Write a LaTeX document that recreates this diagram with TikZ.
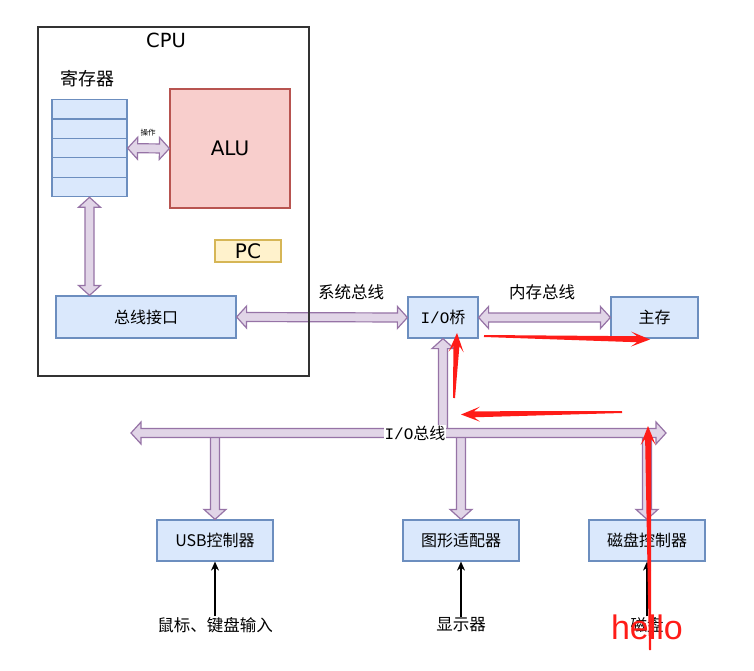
\documentclass[tikz,border=0pt]{standalone}
\usepackage{fontspec}
\setmainfont{DejaVu Sans}
\newfontfamily\cjk{Noto Sans CJK SC}
\newfontfamily\song{Liberation Mono}
\newfontfamily\hand{Liberation Sans}
\usetikzlibrary{calc,arrows.meta}
\definecolor{boxfill}{HTML}{DAE8FC}
\definecolor{boxline}{HTML}{6C8EBF}
\definecolor{alufill}{HTML}{F8CECC}
\definecolor{aluline}{HTML}{B85450}
\definecolor{pcfill}{HTML}{FFF2CC}
\definecolor{pcline}{HTML}{D6B656}
\definecolor{busfill}{HTML}{E1D5E7}
\definecolor{busline}{HTML}{9673A6}
\definecolor{pen}{RGB}{255,28,24}
\tikzset{
  box/.style={draw=boxline, fill=boxfill, line width=1.2pt, inner sep=0pt,
    font=\cjk\fontsize{16}{18}\selectfont},
  flex/.style={draw=busline, fill=busfill, line width=1.2pt, line join=miter},
  tag/.style={font=\cjk\fontsize{16.5}{18}\selectfont, inner sep=1pt},
  redpen/.style={fill=pen},
}
% double headed bus arrow between two points
\def\flexboth(#1)(#2){%
  \coordinate (fa) at ($(#1)!10pt!(#2)$);
  \coordinate (fb) at ($(#2)!10pt!(#1)$);
  \filldraw[flex] (#1) -- ($(fa)!11pt!90:(#2)$) -- ($(fa)!4.5pt!90:(#2)$)
    -- ($(fb)!4.5pt!-90:(#1)$) -- ($(fb)!11pt!-90:(#1)$) -- (#2)
    -- ($(fb)!11pt!90:(#1)$) -- ($(fb)!4.5pt!90:(#1)$)
    -- ($(fa)!4.5pt!-90:(#2)$) -- ($(fa)!11pt!-90:(#2)$) -- cycle;}
% single headed bus arrow
\def\flexone(#1)(#2){%
  \coordinate (fb) at ($(#2)!10pt!(#1)$);
  \filldraw[flex] ($(#1)!4.5pt!90:(#2)$) -- ($(fb)!4.5pt!-90:(#1)$)
    -- ($(fb)!11pt!-90:(#1)$) -- (#2) -- ($(fb)!11pt!90:(#1)$)
    -- ($(fb)!4.5pt!90:(#1)$) -- ($(#1)!4.5pt!-90:(#2)$) -- cycle;}
% hand drawn red arrow
\def\redarrow(#1)(#2){%
  \coordinate (rj) at ($(#2)!13pt!(#1)$);
  \coordinate (rb) at ($(#2)!19pt!(#1)$);
  \fill[redpen] ($(#1)!1pt!90:(#2)$) -- ($(rj)!3pt!90:(#2)$) -- ($(rb)!7.5pt!90:(#2)$)
    -- (#2) -- ($(rb)!7.5pt!-90:(#2)$) -- ($(rj)!3pt!-90:(#2)$)
    -- ($(#1)!1pt!-90:(#2)$) -- cycle;}

\begin{document}
\begin{tikzpicture}[x=1pt,y=-1pt]
	%%%%% START %%%%%
	\useasboundingbox (0,0) rectangle (754,671);

	\node[font=\fontsize{19.5}{21}\selectfont] (cpulabel) at (166,40) {CPU};
	\node[font=\cjk\fontsize{18}{20}\selectfont] (reglabel) at (87,79) {寄存器};

	\foreach \i in {1,...,5}
		\node[box, minimum width=75pt, minimum height=19.4pt] (r\i) at (89.5,{90+\i*19.4}) {};

	\node[draw=aluline, fill=alufill, line width=1.2pt, minimum width=120pt, minimum height=119pt,
		font=\fontsize{20}{22}\selectfont] (alu) at (230,148.5) {ALU};
	\node[draw=pcline, fill=pcfill, line width=1.2pt, minimum width=66pt, minimum height=22pt,
		font=\fontsize{20}{22}\selectfont] (pc) at (248,251) {PC};

	\node[box, minimum width=180pt, minimum height=42pt] (bif) at (146,317) {总线接口};
	\node[box, minimum width=70pt, minimum height=41pt] (bridge) at (443,317.5) {{\song I/O}桥};
	\node[box, minimum width=87pt, minimum height=41pt] (mem) at (654.5,317.5) {主存};

	\node[box, minimum width=116pt, minimum height=41pt] (usb) at (215,540.5) {USB控制器};
	\node[box, minimum width=116pt, minimum height=41pt] (gfx) at (461,540.5) {图形适配器};
	\node[box, minimum width=116pt, minimum height=41pt] (disk) at (647,540.5) {磁盘控制器};

	\node[tag] (mouse) at (215,625) {鼠标、键盘输入};
	\node[tag] (screen) at (461,625) {显示器};
	\node[tag] (platter) at (647,625) {磁盘};

	% buses
	\node[font=\cjk\fontsize{7.5}{8}\selectfont, inner sep=0pt] (oplabel) at (148,133) {操作};
	\flexboth(r3.east)(alu.west)
	\coordinate (bifT) at (r5.south |- bif.north);
	\flexboth(r5.south)(bifT)

	\node[tag] (sysbus) at (351,292) {系统总线};
	\flexboth(bif.east)(bridge.west)
	\node[tag] (membus) at (542,292) {内存总线};
	\flexboth(bridge.east)(mem.west)

	\coordinate (busL) at (131,433);
	\coordinate (busR) at (666,433);
	\coordinate (tapB) at (bridge.south |- busL);
	\coordinate (tapU) at (usb.north |- busL);
	\coordinate (tapG) at (gfx.north |- busL);
	\coordinate (tapD) at (disk.north |- busL);
	\flexone(tapB)(bridge.south)
	\flexone(tapU)(usb.north)
	\flexone(tapG)(gfx.north)
	\flexone(tapD)(disk.north)
	\flexboth(busL)(busR)
	\node[fill=white, inner sep=0.5pt, font=\cjk\fontsize{16}{18}\selectfont] (iobus) at (415,433) {{\song I/O}总线};

	\draw[line width=1.5pt, color=black!80] (38,27) rectangle (309,376);

	\draw[-{Stealth[length=9pt,width=8pt]}, line width=1.2pt] (mouse) -- (usb);
	\draw[-{Stealth[length=9pt,width=8pt]}, line width=1.2pt] (screen) -- (gfx);
	\draw[-{Stealth[length=9pt,width=8pt]}, line width=1.2pt] (platter) -- (disk);

	% red marks
	\coordinate (m1a) at (454,398);
	\coordinate (m1b) at (457,333);
	\coordinate (m2a) at (484,336);
	\coordinate (m2b) at (650,339.5);
	\coordinate (m3a) at (622,412);
	\coordinate (m3b) at (461,414.5);
	\coordinate (m4a) at (650,650);
	\coordinate (m4b) at (648,426);
	\redarrow(m1a)(m1b)
	\redarrow(m2a)(m2b)
	\redarrow(m3a)(m3b)
	\redarrow(m4a)(m4b)
	\node[text=pen, font=\hand\fontsize{34}{36}\selectfont, inner sep=0pt] (hello) at (647,627) {hello};

	%%%%% END %%%%%
\end{tikzpicture}
\end{document}
